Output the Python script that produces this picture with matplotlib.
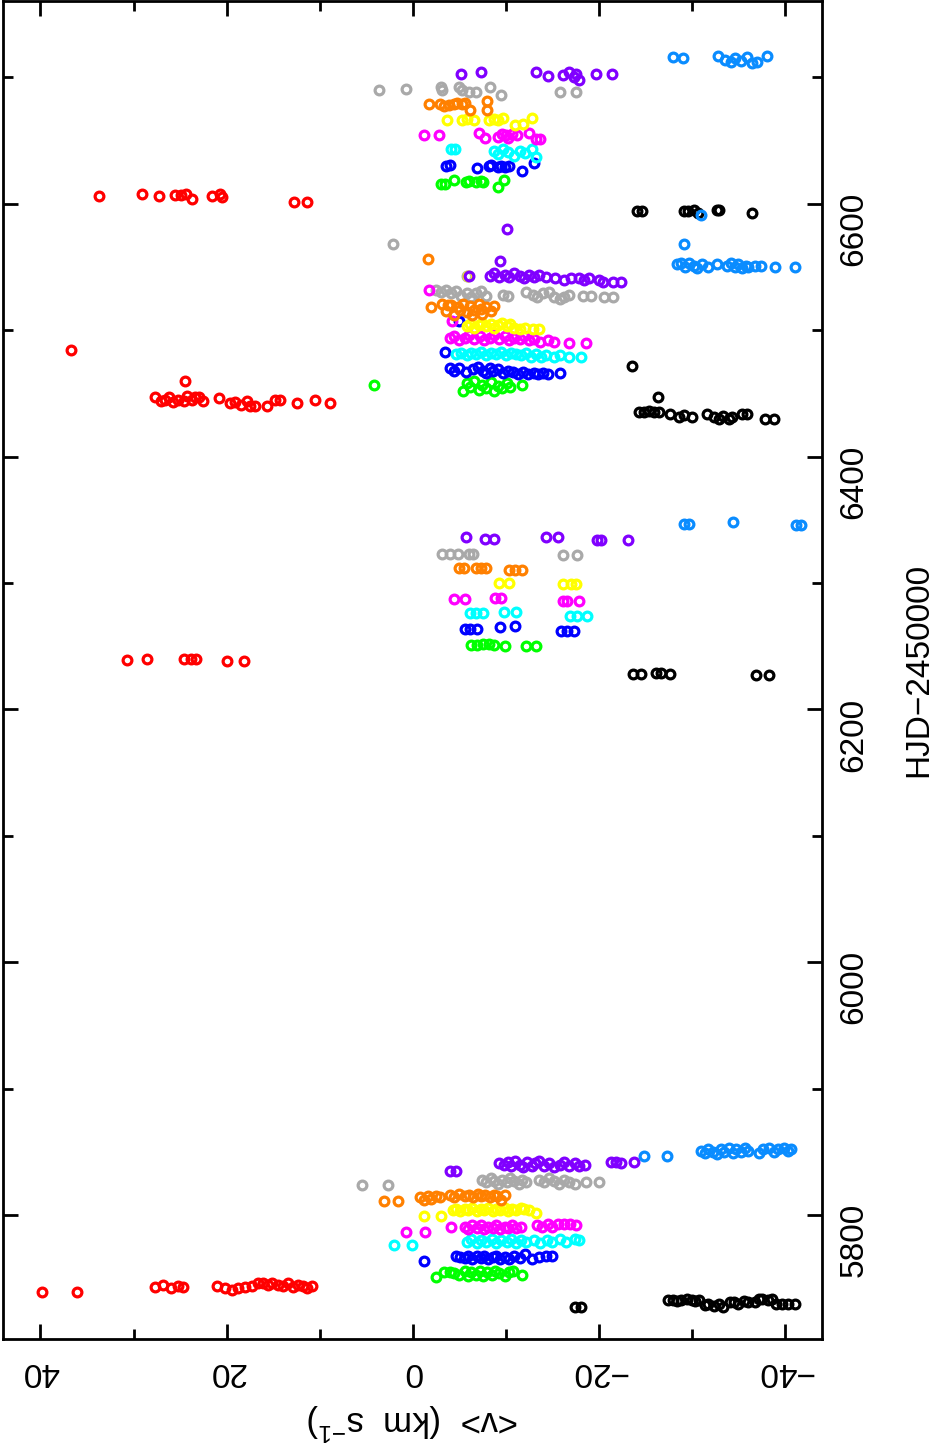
import matplotlib
matplotlib.use('Agg')
import matplotlib.pyplot as plt
from matplotlib.ticker import MultipleLocator

plt.rcParams['font.family'] = ['Liberation Sans', 'DejaVu Sans']
plt.rcParams['mathtext.fontset'] = 'custom'
plt.rcParams['mathtext.rm'] = 'Liberation Sans'
plt.rcParams['mathtext.default'] = 'regular'

# (HJD-2450000, <v> km/s), one list per colour
black = [(5727, -17.4), (5727, -18.1),
         (5733, -27.5), (5733, -28.0), (5732, -28.4), (5733, -28.9), (5734, -29.5), (5733, -30.0),
         (5732, -30.4), (5733, -30.8), (5729, -31.4), (5730, -31.8), (5728, -32.4), (5730, -32.9),
         (5727, -33.4), (5731, -34.1), (5731, -34.5), (5730, -35.0), (5732, -35.6), (5731, -36.1),
         (5731, -36.8), (5734, -37.2), (5734, -37.6), (5733, -38.2), (5734, -38.6), (5730, -39.1),
         (5730, -39.7), (5730, -40.4), (5730, -41.1),
         (6228, -23.7), (6228, -24.5), (6229, -26.2), (6229, -26.7), (6228, -27.7), (6227, -36.9), (6227, -38.3),
         (6472, -23.6), (6447, -26.4),
         (6435, -24.3), (6435, -24.9), (6436, -25.4), (6435, -25.9), (6435, -26.5), (6434, -27.7),
         (6431, -28.6), (6433, -29.2), (6431, -30.0), (6434, -31.6), (6431, -32.4), (6430, -32.9),
         (6432, -33.4), (6430, -34.0), (6431, -34.3), (6434, -35.4), (6434, -35.9), (6430, -37.9), (6430, -38.8),
         (6594, -24.1), (6594, -24.7), (6594, -29.2), (6594, -29.6), (6595, -30.2), (6593, -30.7),
         (6595, -32.7), (6595, -32.9), (6593, -36.5)]

red = [(5739, 39.8), (5739, 36.1), (5743, 27.7), (5745, 26.8), (5742, 26.0), (5744, 25.2), (5743, 24.7),
       (5744, 21.0), (5742, 20.2), (5741, 19.4), (5742, 18.8), (5743, 18.0), (5744, 17.3), (5746, 16.6),
       (5746, 16.1), (5745, 15.5), (5746, 15.1), (5745, 14.5), (5744, 13.9), (5746, 13.4), (5743, 12.9),
       (5745, 12.3), (5744, 11.8), (5742, 11.3), (5744, 10.8),
       (6239, 30.7), (6240, 28.6), (6240, 24.6), (6240, 23.8), (6240, 23.3), (6238, 20.0), (6238, 18.1),
       (6484, 36.7), (6460, 24.5),
       (6447, 27.7), (6444, 27.1), (6445, 26.6), (6447, 26.2), (6443, 25.8), (6445, 25.2), (6444, 24.6),
       (6448, 24.3), (6445, 23.7), (6447, 23.4), (6447, 23.0), (6444, 22.5), (6446, 20.8), (6442, 19.6),
       (6443, 19.1), (6441, 18.5), (6444, 17.8), (6440, 17.5), (6440, 16.9), (6440, 15.7), (6445, 14.8),
       (6445, 14.3), (6442, 12.4), (6445, 10.5), (6442, 8.9),
       (6606, 33.7), (6608, 29.1), (6606, 27.3), (6607, 25.5), (6607, 24.9), (6608, 24.4), (6604, 23.7),
       (6606, 21.6), (6608, 20.7), (6605, 20.5), (6601, 12.8), (6601, 11.3)]

green = [(5751, -2.5), (5755, -3.4), (5755, -4.0), (5754, -4.5), (5753, -5.0), (5756, -5.6), (5752, -5.9),
         (5755, -6.3), (5753, -6.8), (5756, -7.2), (5752, -7.6), (5755, -8.0), (5753, -8.5), (5756, -8.9),
         (5754, -9.3), (5752, -9.9), (5755, -10.4), (5756, -10.8), (5753, -11.8),
         (6251, -6.3), (6251, -6.9), (6252, -7.6), (6252, -8.2), (6251, -8.8), (6250, -9.9),
         (6250, -12.2), (6250, -13.3),
         (6457, 4.1),
         (6452, -5.4), (6458, -5.8), (6455, -6.2), (6460, -6.6), (6453, -7.1), (6457, -7.5), (6454, -7.9),
         (6459, -8.4), (6452, -8.8), (6456, -9.2), (6454, -9.6), (6458, -10.1), (6455, -10.5), (6457, -11.8),
         (6616, -3.0), (6616, -3.5), (6619, -4.4), (6617, -5.7), (6618, -6.1), (6617, -6.8), (6618, -7.3),
         (6617, -7.6), (6613, -9.2), (6619, -9.8)]

blue = [(5764, -1.2),
        (5768, -4.7), (5767, -5.1), (5766, -5.6), (5768, -6.0), (5765, -6.4), (5768, -6.9), (5766, -7.3),
        (5768, -7.7), (5765, -8.1), (5767, -8.6), (5768, -9.0), (5765, -9.4), (5767, -9.9), (5765, -10.4),
        (5768, -10.9), (5766, -11.5), (5769, -12.1), (5765, -12.8), (5767, -13.6), (5768, -14.3), (5768, -15.0),
        (6264, -5.6), (6264, -6.2), (6264, -6.9), (6265, -9.4), (6266, -11.0), (6262, -15.9), (6262, -16.6),
        (6262, -17.3),
        (6483, -3.5), (6507, -5.0),
        (6470, -4.0), (6468, -4.5), (6470, -5.0), (6467, -5.7), (6469, -6.5), (6471, -7.0), (6468, -7.6),
        (6466, -7.9), (6470, -8.3), (6468, -8.6), (6469, -9.2), (6466, -9.7), (6468, -10.3), (6467, -10.8),
        (6465, -11.3), (6467, -11.9), (6465, -12.4), (6466, -13.0), (6465, -13.5), (6466, -14.0), (6465, -14.6),
        (6466, -15.8),
        (6630, -3.6), (6631, -4.0), (6628, -6.9), (6630, -8.2), (6631, -8.4), (6629, -9.2), (6630, -9.5),
        (6629, -9.9), (6630, -10.4), (6626, -11.8), (6632, -13.1)]

cyan = [(5776, 2.0), (5776, 0.1),
        (5779, -5.8), (5781, -6.3), (5778, -6.9), (5780, -7.4), (5779, -7.9), (5781, -8.5), (5778, -9.0),
        (5780, -9.5), (5779, -10.1), (5781, -10.6), (5778, -11.1), (5780, -11.7), (5779, -12.2), (5780, -13.1),
        (5778, -13.7), (5780, -14.4), (5779, -15.0), (5781, -15.8), (5779, -16.5), (5781, -17.4), (5780, -17.9),
        (6276, -6.2), (6276, -6.8), (6276, -7.6), (6277, -9.8), (6277, -11.1), (6274, -16.9), (6274, -17.7),
        (6274, -18.7),
        (6481, -4.7), (6482, -5.2), (6480, -5.8), (6482, -6.3), (6481, -6.8), (6483, -7.4), (6480, -7.9),
        (6482, -8.4), (6481, -9.0), (6483, -9.5), (6480, -10.0), (6482, -10.6), (6481, -11.1), (6480, -11.7),
        (6482, -12.2), (6479, -12.7), (6481, -13.3), (6479, -13.8), (6480, -14.3), (6479, -15.2), (6480, -15.8),
        (6479, -16.8), (6479, -18.1),
        (6643, -4.1), (6643, -4.6), (6642, -8.7), (6639, -9.2), (6643, -9.7), (6641, -10.2), (6638, -10.9),
        (6642, -11.5), (6640, -12.1), (6643, -12.8), (6637, -13.3)]

magenta = [(5787, 0.75), (5787, -1.3), (5791, -4.1),
           (5791, -5.6), (5789, -6.0), (5792, -6.4), (5790, -6.9), (5792, -7.3), (5789, -7.7), (5791, -8.1),
           (5790, -8.6), (5792, -9.0), (5789, -9.4), (5791, -9.9), (5790, -10.3), (5792, -10.7), (5790, -11.1),
           (5791, -11.6), (5792, -13.4), (5791, -13.9), (5793, -14.5), (5791, -15.0), (5793, -15.6),
           (5793, -16.3), (5793, -16.9), (5792, -17.6),
           (6287, -4.5), (6287, -5.6), (6288, -8.9), (6288, -9.5), (6286, -16.2), (6286, -16.6), (6286, -17.9),
           (6507, -4.2), (6532, -1.8),
           (6494, -4.0), (6495, -4.5), (6492, -5.0), (6494, -5.6), (6496, -6.1), (6493, -6.6), (6495, -7.2),
           (6492, -7.7), (6494, -8.3), (6496, -8.8), (6493, -9.3), (6495, -9.9), (6492, -10.4), (6494, -10.9),
           (6493, -11.5), (6495, -12.0), (6492, -12.5), (6493, -13.1), (6491, -13.7), (6492, -14.5),
           (6491, -15.2), (6490, -16.8), (6490, -18.6),
           (6654, -1.2), (6654, -2.8), (6656, -7.1), (6652, -7.8), (6653, -9.2), (6655, -9.6), (6654, -10.0),
           (6652, -10.3), (6655, -10.7), (6654, -11.2), (6656, -12.5), (6651, -13.3), (6651, -13.7)]

yellow = [(5799, -1.2), (5799, -3.0),
          (5804, -4.3), (5805, -4.7), (5803, -5.1), (5805, -5.6), (5804, -6.0), (5806, -6.4), (5803, -6.9),
          (5805, -7.3), (5804, -7.7), (5806, -8.1), (5803, -8.6), (5805, -9.0), (5804, -9.4), (5806, -9.9),
          (5803, -10.3), (5805, -10.7), (5804, -11.1), (5806, -11.6), (5805, -12.0), (5804, -12.5),
          (5802, -13.3),
          (6300, -9.3), (6300, -10.4), (6299, -16.2), (6299, -17.0), (6299, -17.6),
          (6543, -5.9),
          (6503, -5.8), (6505, -6.2), (6502, -6.6), (6504, -7.1), (6506, -7.5), (6503, -7.9), (6505, -8.4),
          (6502, -8.8), (6504, -9.2), (6506, -9.6), (6503, -10.1), (6505, -10.5), (6502, -10.9),
          (6501, -11.5), (6502, -12.1), (6501, -12.9), (6501, -13.6),
          (6666, -3.7), (6666, -5.3), (6667, -5.8), (6666, -6.6), (6666, -8.2), (6667, -8.7), (6666, -9.2),
          (6668, -9.7), (6662, -11.0), (6663, -11.9), (6668, -12.8)]

orange = [(5811, 3.1), (5811, 1.6),
          (5814, -0.75), (5812, -1.2), (5815, -1.6), (5813, -2.0), (5815, -2.5), (5814, -2.9), (5816, -4.0),
          (5814, -4.5), (5817, -5.0), (5815, -5.6), (5816, -6.1), (5814, -6.5), (5817, -7.0), (5815, -7.4),
          (5816, -7.8), (5814, -8.3), (5816, -8.7), (5815, -9.1), (5812, -9.5), (5816, -9.9),
          (6312, -5.0), (6312, -5.5), (6312, -6.8), (6312, -7.4), (6312, -7.9), (6310, -10.4), (6310, -11.0),
          (6310, -11.8),
          (6556, -1.6), (6518, -2.0),
          (6521, -3.2), (6515, -3.6), (6520, -4.1), (6512, -4.5), (6518, -4.9), (6521, -5.4), (6514, -5.8),
          (6519, -6.2), (6516, -6.6), (6521, -7.1), (6513, -7.5), (6518, -7.9), (6515, -8.4), (6519, -8.8),
          (6520, -3.8), (6516, -5.1), (6512, -6.4), (6517, -7.3),
          (6679, -1.8), (6679, -2.9), (6677, -3.4), (6678, -3.9), (6679, -4.4), (6680, -4.8), (6679, -5.3),
          (6680, -5.6), (6674, -6.2), (6681, -8.0), (6674, -8.0)]

gray = [(5824, 5.4), (5824, 2.7),
        (5828, -7.5), (5826, -7.9), (5829, -8.4), (5827, -8.8), (5825, -9.2), (5828, -9.6), (5826, -10.1),
        (5829, -10.5), (5827, -10.9), (5825, -11.4), (5828, -11.8), (5826, -12.2), (5828, -13.6),
        (5826, -14.1), (5829, -14.7), (5827, -15.2), (5825, -15.7), (5828, -16.3), (5826, -16.8),
        (5825, -17.4), (5826, -18.6), (5826, -20.0),
        (6323, -3.2), (6323, -4.0), (6323, -4.9), (6323, -6.1), (6323, -6.5), (6322, -16.2), (6322, -17.7),
        (6568, 2.1), (6543, -5.8),
        (6532, -2.5), (6530, -3.1), (6532, -3.6), (6529, -4.1), (6531, -4.7), (6527, -5.2), (6529, -5.8),
        (6526, -6.3), (6529, -6.8), (6531, -7.4), (6527, -7.9), (6528, -9.7), (6527, -10.2), (6530, -12.2),
        (6528, -12.9), (6526, -13.4), (6529, -14.0), (6530, -14.7), (6526, -15.2), (6525, -15.8),
        (6526, -16.3), (6528, -16.8), (6527, -18.3), (6527, -19.2), (6526, -20.6), (6526, -21.5),
        (6690, 3.6), (6691, 0.7), (6692, -3.1), (6690, -3.2), (6692, -5.0), (6690, -5.3), (6688, -6.1),
        (6688, -6.8), (6692, -8.3), (6686, -9.5), (6688, -15.8), (6688, -17.6)]

purple = [(5835, -4.0), (5835, -4.7),
          (5841, -9.3), (5840, -9.8), (5842, -10.2), (5839, -10.6), (5843, -11.0), (5840, -11.5),
          (5838, -11.9), (5842, -12.3), (5839, -12.8), (5841, -13.2), (5843, -13.6), (5839, -14.1),
          (5841, -14.7), (5838, -15.2), (5840, -15.8), (5842, -16.3), (5839, -16.8), (5841, -17.4),
          (5839, -17.9), (5840, -18.5), (5842, -21.3), (5842, -21.9), (5841, -22.4), (5842, -23.8),
          (6336, -5.7), (6335, -7.8), (6335, -8.7), (6336, -14.3), (6336, -15.6), (6334, -19.8), (6334, -20.3),
          (6334, -23.2),
          (6580, -10.1), (6555, -9.4), (6543, -6.1),
          (6543, -8.3), (6545, -8.8), (6542, -9.3), (6544, -9.9), (6542, -10.4), (6545, -10.9), (6543, -11.5),
          (6541, -12.0), (6544, -12.5), (6542, -13.1), (6544, -13.6), (6542, -14.3), (6541, -15.3),
          (6540, -16.3), (6541, -17.0), (6541, -17.9), (6540, -18.4), (6541, -19.0), (6540, -20.0),
          (6538, -20.5), (6538, -21.5), (6538, -22.4),
          (6703, -5.2), (6704, -7.3), (6704, -13.3), (6701, -14.5), (6702, -16.2), (6704, -16.8),
          (6700, -17.3), (6703, -17.6), (6698, -17.9), (6703, -19.7), (6703, -21.4)]

lightblue = [(5847, -24.9), (5847, -27.3),
             (5851, -31.0), (5849, -31.4), (5852, -31.8), (5850, -32.3), (5848, -32.7), (5852, -33.1),
             (5850, -33.5), (5853, -34.0), (5849, -34.4), (5852, -34.8), (5850, -35.3), (5853, -35.7),
             (5851, -36.1), (5849, -37.2), (5852, -37.7), (5853, -38.3), (5850, -38.8), (5852, -39.3),
             (5853, -39.9), (5851, -40.4), (5852, -40.7),
             (6347, -29.2), (6347, -29.7), (6348, -34.4), (6346, -41.2), (6346, -41.7),
             (6568, -29.2),
             (6552, -28.4), (6553, -28.8), (6550, -29.3), (6553, -29.7), (6551, -30.2), (6549, -30.6),
             (6552, -31.1), (6550, -31.7), (6552, -32.7), (6551, -33.8), (6553, -34.2), (6550, -34.7),
             (6552, -35.0), (6549, -35.4), (6551, -35.8), (6550, -36.1), (6551, -36.8), (6551, -37.4),
             (6550, -39.0), (6550, -41.1),
             (6591, -31.0),
             (6716, -28.0), (6715, -29.1), (6717, -32.8), (6714, -33.6), (6712, -34.2), (6715, -34.6),
             (6713, -35.3), (6716, -35.9), (6711, -36.5), (6712, -37.0), (6717, -38.1)]

series = [(gray, '#a9a9a9'), (black, 'black'), (red, '#ff0000'), (green, '#00ff00'), (blue, '#0000ff'),
          (cyan, '#00ffff'), (magenta, '#ff00ff'), (yellow, '#ffff00'), (orange, '#ff8000'),
          (purple, '#8000ff'), (lightblue, '#0a8cff')]

fig = plt.figure(figsize=(9.38, 14.55), dpi=100)
ax = fig.add_axes([0.0035, 0.0797, 0.8728, 0.9193])

for pts, col in series:
    t = [p[0] for p in pts]
    v = [p[1] for p in pts]
    ax.plot(v, t, 'o', mfc='none', mec=col, ms=6.3, mew=2.3, ls='none')

ax.set_xlim(44, -44)
ax.set_ylim(5702, 6760)
ax.xaxis.set_major_locator(MultipleLocator(20))
ax.xaxis.set_minor_locator(MultipleLocator(10))
ax.yaxis.set_major_locator(MultipleLocator(200))
ax.yaxis.set_minor_locator(MultipleLocator(100))

for s in ax.spines.values():
    s.set_linewidth(2.0)

ax.tick_params(which='both', direction='in', top=True, bottom=True, left=True, right=True, width=2.0)
ax.tick_params(which='major', length=11)
ax.tick_params(which='minor', length=7.5)
ax.tick_params(axis='x', labelsize=24, labelrotation=180, pad=12)
ax.tick_params(axis='y', labelsize=24, labelleft=False, labelright=True, labelrotation=90, pad=12)

ax.set_xlabel('<v>  (km  s$^{-1}$)', fontsize=25, rotation=180, labelpad=10)
ax.yaxis.set_label_position('right')
ax.set_ylabel('HJD\u22122450000', fontsize=24, rotation=90, labelpad=24)

fig.savefig('out.png', dpi=100)
